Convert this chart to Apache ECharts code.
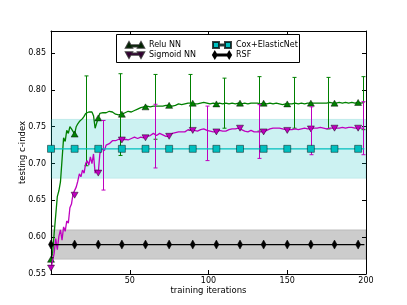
<!DOCTYPE html>
<html><head><meta charset="utf-8">
<script src="https://cdn.jsdelivr.net/npm/echarts@6/dist/echarts.min.js"></script>
<style>html,body{margin:0;padding:0;background:#fff}#c{width:407px;height:305px}</style>
</head><body><div id="c"></div>
<script>
// ---- data ----
const reluNN = [
 0.570,0.578,0.605,0.630,0.655,0.663,0.675,0.705,0.735,0.730,
 0.745,0.741,0.750,0.747,0.745,0.740,0.750,0.754,0.757,0.759,
 0.761,0.764,0.768,0.769,0.770,0.768,0.770,0.765,0.748,0.755,
 0.762,0.768,0.770,0.769,0.768,0.769,0.770,0.771,0.772,0.770,
 0.768,0.767,0.766,0.766,0.767,0.767,0.768,0.769,0.770,0.771,
 0.772,0.770,0.771,0.772,0.773,0.774,0.775,0.776,0.777,0.777,
 0.777,0.778,0.778,0.777,0.777,0.778,0.778,0.778,0.779,0.778,
 0.778,0.778,0.779,0.779,0.779,0.779,0.778,0.778,0.779,0.779,
 0.781,0.781,0.781,0.780,0.781,0.781,0.782,0.782,0.782,0.782,
 0.782,0.781,0.781,0.781,0.781,0.782,0.782,0.783,0.783,0.782,
 0.782,0.781,0.781,0.782,0.782,0.781,0.781,0.782,0.781,0.781,
 0.781,0.782,0.782,0.781,0.781,0.782,0.782,0.781,0.781,0.782,
 0.782,0.781,0.782,0.782,0.781,0.781,0.782,0.782,0.781,0.782,
 0.782,0.782,0.781,0.781,0.782,0.782,0.781,0.781,0.782,0.782,
 0.781,0.781,0.782,0.782,0.781,0.781,0.781,0.780,0.781,0.781,
 0.781,0.781,0.781,0.781,0.782,0.782,0.781,0.781,0.782,0.782,
 0.782,0.781,0.782,0.782,0.782,0.782,0.781,0.782,0.782,0.782,
 0.783,0.782,0.782,0.782,0.783,0.782,0.782,0.783,0.782,0.782,
 0.782,0.782,0.783,0.783,0.782,0.782,0.783,0.783,0.782,0.782,
 0.783,0.783,0.782,0.782,0.783,0.783,0.783,0.782,0.783,0.783];
const sigmoidNN = [
 0.558,0.568,0.578,0.598,0.583,0.601,0.610,0.596,0.614,0.608,
 0.622,0.619,0.640,0.645,0.659,0.657,0.668,0.676,0.686,0.682,
 0.691,0.687,0.700,0.704,0.698,0.709,0.700,0.713,0.687,0.691,
 0.687,0.713,0.720,0.722,0.718,0.725,0.726,0.727,0.729,0.731,
 0.732,0.731,0.733,0.733,0.732,0.732,0.734,0.733,0.732,0.732,
 0.733,0.734,0.735,0.736,0.734,0.734,0.735,0.736,0.735,0.735,
 0.735,0.737,0.738,0.738,0.740,0.741,0.740,0.738,0.740,0.741,
 0.740,0.739,0.738,0.737,0.737,0.737,0.739,0.741,0.741,0.742,
 0.743,0.743,0.742,0.743,0.744,0.743,0.745,0.746,0.746,0.745,
 0.745,0.745,0.745,0.744,0.744,0.746,0.746,0.747,0.746,0.745,
 0.744,0.744,0.743,0.743,0.743,0.743,0.744,0.745,0.745,0.744,
 0.744,0.744,0.745,0.746,0.746,0.747,0.748,0.747,0.748,0.748,
 0.748,0.746,0.745,0.744,0.743,0.743,0.744,0.745,0.744,0.743,
 0.743,0.743,0.743,0.743,0.743,0.743,0.744,0.745,0.746,0.747,
 0.748,0.748,0.748,0.748,0.748,0.748,0.747,0.747,0.746,0.746,
 0.745,0.746,0.746,0.746,0.746,0.747,0.747,0.746,0.747,0.747,
 0.747,0.748,0.747,0.747,0.746,0.747,0.747,0.748,0.747,0.748,
 0.748,0.749,0.748,0.748,0.748,0.747,0.748,0.748,0.749,0.748,
 0.748,0.748,0.748,0.748,0.749,0.749,0.749,0.748,0.749,0.749,
 0.749,0.749,0.748,0.748,0.748,0.748,0.748,0.748,0.748,0.748];
const coxMean = 0.72;
const coxBand = [0.68, 0.76];
const rsfMean = 0.59;
const rsfBand = [0.57, 0.61];

const reluErrX    = [22, 44, 66, 88, 110, 132, 154, 176, 198];
const reluErrLow  = [0.697, 0.711, 0.733, 0.745, 0.748, 0.744, 0.748, 0.747, 0.746];
const reluErrHigh = [0.819, 0.822, 0.821, 0.821, 0.816, 0.818, 0.817, 0.817, 0.818];
const sigErrX     = [33, 66, 99, 132, 165, 198];
const sigErrLow   = [0.664, 0.694, 0.704, 0.707, 0.712, 0.712];
const sigErrHigh  = [0.7585, 0.7805, 0.778, 0.780, 0.777, 0.784];
const rsfErrX     = [0];
const rsfErrLow   = [0.572];
const rsfErrHigh  = [0.615];

const xTicks = [0, 50, 100, 150, 200];
const yTicks = [0.55, 0.60, 0.65, 0.70, 0.75, 0.80, 0.85];

// ---- chart ----
const iterations = reluNN.map((_, i) => i);
const markEvery = 15;
const FONT = 'DejaVu Sans';
const GREEN = '#008000', MAG = '#bf00bf', CYAN = '#00bfbf', BLACK = '#000000';
const EDGE = 'rgba(0,0,0,0.75)';

function lineData(vals, sym) {
  return vals.map((v, i) => ({ value: [iterations[i], v], symbol: (i % markEvery === 0) ? sym : 'none' }));
}
function errData(xs, lo, hi) { return xs.map((x, i) => [x, lo[i], hi[i]]); }
function errSeries(name, xs, lo, hi, color) {
  return {
    type: 'custom', name: name, clip: true, z: 3, silent: true,
    data: errData(xs, lo, hi),
    renderItem: function (params, api) {
      const p1 = api.coord([api.value(0), api.value(1)]);
      const p2 = api.coord([api.value(0), api.value(2)]);
      const x = Math.round(p1[0]) + 0.5, w = 2;
      const st = { stroke: color, lineWidth: 1 };
      return { type: 'group', children: [
        { type: 'line', shape: { x1: x, y1: p1[1], x2: x, y2: p2[1] }, style: st },
        { type: 'line', shape: { x1: x - w, y1: p1[1], x2: x + w, y2: p1[1] }, style: st },
        { type: 'line', shape: { x1: x - w, y1: p2[1], x2: x + w, y2: p2[1] }, style: st }
      ]};
    }
  };
}

const iconUp = 'path://M0,10L5,1L10,10Z M20,10L25,1L30,10Z M5,6L25,6L25,8L5,8Z';
const iconDown = 'path://M0,0L10,0L5,9Z M20,0L30,0L25,9Z M5,2L25,2L25,4L5,4Z';
const iconSq = 'path://M0,0h10v10h-10Z M20,0h10v10h-10Z M10,4h10v2h-10Z';
const iconDia = 'path://M3,0L6,5L3,10L0,5Z M27,0L30,5L27,10L24,5Z M6,4h18v2h-18Z';

const axisCommon = {
  type: 'value', splitLine: { show: false },
  axisLine: { show: true, onZero: false, lineStyle: { color: '#000', width: 1 } },
  axisTick: { show: true, inside: true, length: 4, lineStyle: { color: '#000' } }
};

const option = {
  animation: false,
  backgroundColor: '#fff',
  grid: { left: 51, right: 41, top: 31, bottom: 31, containLabel: false },
  xAxis: [
    Object.assign({}, axisCommon, {
      position: 'bottom', min: xTicks[0], max: xTicks[xTicks.length - 1], interval: 50,
      name: 'training iterations', nameLocation: 'middle', nameGap: 12, nameMoveOverlap: false,
      nameTextStyle: { fontFamily: FONT, fontSize: 8.5, color: '#000' },
      axisLabel: { showMinLabel: false, fontFamily: FONT, fontSize: 8, color: '#000', margin: 3 }
    }),
    Object.assign({}, axisCommon, {
      position: 'top', min: xTicks[0], max: xTicks[xTicks.length - 1], interval: 50,
      axisLabel: { show: false }
    })
  ],
  yAxis: [
    Object.assign({}, axisCommon, {
      position: 'left', min: yTicks[0], max: 0.88, interval: 0.05,
      name: 'testing c-index', nameLocation: 'middle', nameGap: 24, nameMoveOverlap: false,
      nameTextStyle: { fontFamily: FONT, fontSize: 8.5, color: '#000' },
      axisLabel: { showMaxLabel: false, fontFamily: FONT, fontSize: 8, color: '#000', margin: 5,
        formatter: v => v.toFixed(2) }
    }),
    Object.assign({}, axisCommon, {
      position: 'right', min: yTicks[0], max: 0.88, interval: 0.05,
      axisLabel: { show: false }
    })
  ],
  legend: [
    { left: 120, top: 36, orient: 'vertical', itemGap: 2, itemWidth: 18, itemHeight: 7, z: 101,
      textStyle: { fontFamily: FONT, fontSize: 8, color: '#000' },
      data: [{ name: 'Relu NN', icon: iconUp }, { name: 'Sigmoid NN', icon: iconDown }] },
    { left: 207, top: 36, orient: 'vertical', itemGap: 2, itemWidth: 18, itemHeight: 7, z: 101,
      textStyle: { fontFamily: FONT, fontSize: 8, color: '#000' },
      data: [{ name: 'Cox+ElasticNet', icon: iconSq }, { name: 'RSF', icon: iconDia }] }
  ],
  graphic: [{
    type: 'rect', z: 100,
    shape: { x: 116.5, y: 34.5, width: 183, height: 28 },
    style: { fill: '#fff', stroke: '#000', lineWidth: 1 }
  }],
  series: [
    { type: 'line', name: 'bands', data: [], z: 1, silent: true,
      markArea: { silent: true, data: [
        [ { yAxis: coxBand[0], itemStyle: { color: 'rgba(0,191,191,0.2)', borderColor: 'rgba(0,160,160,0.5)', borderWidth: 0.5, borderType: 'dotted' } }, { yAxis: coxBand[1] } ],
        [ { yAxis: rsfBand[0], itemStyle: { color: 'rgba(0,0,0,0.2)', borderColor: 'rgba(0,0,0,0.5)', borderWidth: 0.5, borderType: 'dotted' } }, { yAxis: rsfBand[1] } ]
      ] } },
    { type: 'line', name: 'Relu NN', z: 2, data: lineData(reluNN, 'triangle'), showAllSymbol: true,
      symbolSize: [7, 6], color: GREEN,
      lineStyle: { color: GREEN, width: 1.3 },
      itemStyle: { color: GREEN, borderColor: EDGE, borderWidth: 0.6 } },
    errSeries('Relu NN', reluErrX, reluErrLow, reluErrHigh, GREEN),
    { type: 'line', name: 'Sigmoid NN', z: 4, data: lineData(sigmoidNN, 'triangle'), showAllSymbol: true,
      symbolSize: [7, 6], symbolRotate: 180, color: MAG,
      lineStyle: { color: MAG, width: 1.3 },
      itemStyle: { color: MAG, borderColor: EDGE, borderWidth: 0.6 } },
    Object.assign(errSeries('Sigmoid NN', sigErrX, sigErrLow, sigErrHigh, MAG), { z: 5 }),
    { type: 'line', name: 'Cox+ElasticNet', z: 6, data: lineData(iterations.map(() => coxMean), 'rect'), showAllSymbol: true,
      symbolSize: 7, color: CYAN,
      lineStyle: { color: CYAN, width: 1.3 },
      itemStyle: { color: CYAN, borderColor: EDGE, borderWidth: 0.6 } },
    { type: 'line', name: 'RSF', z: 7, data: lineData(iterations.map(() => rsfMean), 'diamond'), showAllSymbol: true,
      symbolSize: [5, 9], color: BLACK,
      lineStyle: { color: BLACK, width: 1.3 },
      itemStyle: { color: BLACK, borderColor: BLACK, borderWidth: 0.5 } },
    Object.assign(errSeries('RSF', rsfErrX, rsfErrLow, rsfErrHigh, BLACK), { z: 8 })
  ]
};
const chart = echarts.init(document.getElementById('c'));
chart.setOption(option);
</script>
</body></html>
